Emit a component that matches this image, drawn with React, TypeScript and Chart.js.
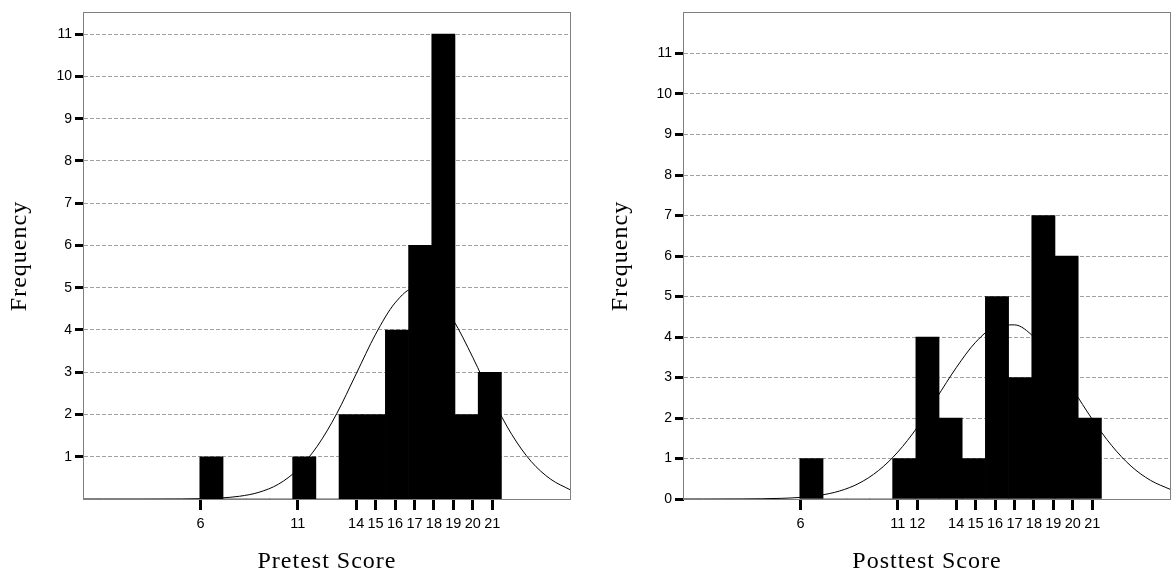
import React, { useEffect, useRef } from "react";
import { Chart, registerables } from "chart.js";

Chart.register(...registerables);

// Histogram bin edges (score units) shared by both panels
const binEdges = [5.96, 7.15, 8.35, 9.54, 10.73, 11.93, 13.12, 14.31, 15.5, 16.7, 17.89, 19.08, 20.28, 21.47];
const pretestCounts = [1, 0, 0, 0, 1, 0, 2, 2, 4, 6, 11, 2, 3];
const posttestCounts = [1, 0, 0, 0, 1, 4, 2, 1, 5, 3, 7, 6, 2];

const pretestXTicks = [6, 11, 14, 15, 16, 17, 18, 19, 20, 21];
const posttestXTicks = [6, 11, 12, 14, 15, 16, 17, 18, 19, 20, 21];
const pretestYTicks = [1, 2, 3, 4, 5, 6, 7, 8, 9, 10, 11];
const posttestYTicks = [0, 1, 2, 3, 4, 5, 6, 7, 8, 9, 10, 11];

// Normal curve
const curveX = [0, 1, 2, 3, 4, 5, 6, 7, 8, 9, 10, 11, 12, 13, 14, 15, 16, 17, 18, 19, 20, 21, 22, 23, 24, 25];
const pretestCurve = [0, 0, 0, 0, 0.001, 0.002, 0.008, 0.024, 0.065, 0.159, 0.35, 0.7, 1.25, 2.02, 2.96, 3.9, 4.64, 4.99, 4.84, 4.23, 3.35, 2.38, 1.53, 0.89, 0.47, 0.22];
const posttestCurve = [0, 0, 0.001, 0.002, 0.006, 0.016, 0.04, 0.093, 0.197, 0.387, 0.7, 1.16, 1.77, 2.5, 3.24, 3.87, 4.25, 4.3, 4.0, 3.43, 2.71, 1.97, 1.32, 0.81, 0.46, 0.24];

const SANS = "'Liberation Sans', Arial, sans-serif";
const SERIF = "'Liberation Serif', 'Times New Roman', serif";

const framePlugin = {
  id: "frameAndSpacing",
  beforeDraw(chart: any) {
    chart.ctx.letterSpacing = "1px";
  },
  beforeDatasetsDraw(chart: any) {
    const { ctx, chartArea: a } = chart;
    ctx.letterSpacing = "0px";
    ctx.save();
    ctx.strokeStyle = "#808080";
    ctx.lineWidth = 1;
    ctx.strokeRect(Math.round(a.left) - 0.5, Math.round(a.top) - 0.5, Math.round(a.right - a.left) + 1, Math.round(a.bottom - a.top) + 1);
    ctx.restore();
  },
};

type Props = {
  xTitle: string;
  counts: number[];
  xTicks: number[];
  yTicks: number[];
  yMax: number;
  curve: number[];
  yAxisWidth: number;
  yTitlePad: number;
  padRight: number;
  width: number;
  left: number;
};

function Histogram(p: Props) {
  const ref = useRef<HTMLCanvasElement>(null);
  useEffect(() => {
    if (!ref.current) return;
    const centers = p.counts.map((_, i) => (binEdges[i] + binEdges[i + 1]) / 2);
    const chart = new Chart(ref.current, {
      type: "bar",
      data: {
        datasets: [
          {
            type: "line",
            data: curveX.map((x, i) => ({ x, y: p.curve[i] })),
            borderColor: "#000",
            borderWidth: 1,
            pointRadius: 0,
            cubicInterpolationMode: "monotone",
            fill: false,
            order: 0,
          } as any,
          {
            type: "bar",
            data: centers.map((x, i) => ({ x, y: p.counts[i] })),
            backgroundColor: "#000",
            borderWidth: 0,
            barThickness: "flex",
            barPercentage: 1,
            categoryPercentage: 1,
            order: 1,
          } as any,
        ],
      },
      options: {
        animation: false,
        responsive: false,
        events: [],
        layout: { padding: { top: 13, right: p.padRight, left: 0, bottom: 0 } },
        plugins: { legend: { display: false }, tooltip: { enabled: false } },
        scales: {
          x: {
            type: "linear",
            min: 0,
            max: 25,
            offset: false,
            afterBuildTicks: (s: any) => {
              s.ticks = p.xTicks.map((v) => ({ value: v }));
            },
            afterFit: (s: any) => {
              s.height = 77;
            },
            grid: { offset: false, drawOnChartArea: false, tickLength: 11, tickWidth: 3, tickColor: "#000", color: "#000" },
            border: { display: false },
            ticks: {
              autoSkip: false,
              maxRotation: 0,
              padding: 5,
              color: "#000",
              font: { family: SANS, size: 14.5 },
              callback: (v: any) => String(v),
              z: 1,
            },
            title: {
              display: true,
              text: p.xTitle,
              color: "#000",
              font: { family: SERIF, size: 24 },
              padding: { top: 0, bottom: 0 },
            },
          },
          y: {
            type: "linear",
            min: 0,
            max: p.yMax,
            afterBuildTicks: (s: any) => {
              s.ticks = p.yTicks.map((v) => ({ value: v }));
            },
            afterFit: (s: any) => {
              s.width = p.yAxisWidth;
            },
            grid: { color: "#a0a0a0", lineWidth: 1, tickLength: 9, tickWidth: 3, tickColor: "#000" },
            border: { display: false, dash: [4, 2] },
            ticks: {
              padding: 3,
              color: "#000",
              font: { family: SANS, size: 14 },
              callback: (v: any) => String(v),
              z: 1,
            },
            title: {
              display: true,
              text: "Frequency",
              color: "#000",
              font: { family: SERIF, size: 24 },
              padding: { top: p.yTitlePad, bottom: 0 },
            },
          },
        },
      } as any,
      plugins: [framePlugin],
    });
    return () => chart.destroy();
  }, []);
  return (
    <canvas
      ref={ref}
      width={p.width}
      height={576}
      style={{ position: "absolute", left: p.left, top: 0, width: p.width, height: 576 }}
    />
  );
}

export default function App() {
  return (
    <div style={{ position: "absolute", left: 0, top: 0, width: 1173, height: 576, background: "#fff" }}>
      <Histogram
        xTitle="Pretest Score"
        counts={pretestCounts}
        xTicks={pretestXTicks}
        yTicks={pretestYTicks}
        yMax={11.5}
        curve={pretestCurve}
        yAxisWidth={84}
        yTitlePad={5}
        padRight={16}
        width={586}
        left={0}
      />
      <Histogram
        xTitle="Posttest Score"
        counts={posttestCounts}
        xTicks={posttestXTicks}
        yTicks={posttestYTicks}
        yMax={12}
        curve={posttestCurve}
        yAxisWidth={98}
        yTitlePad={20}
        padRight={3}
        width={587}
        left={586}
      />
    </div>
  );
}
